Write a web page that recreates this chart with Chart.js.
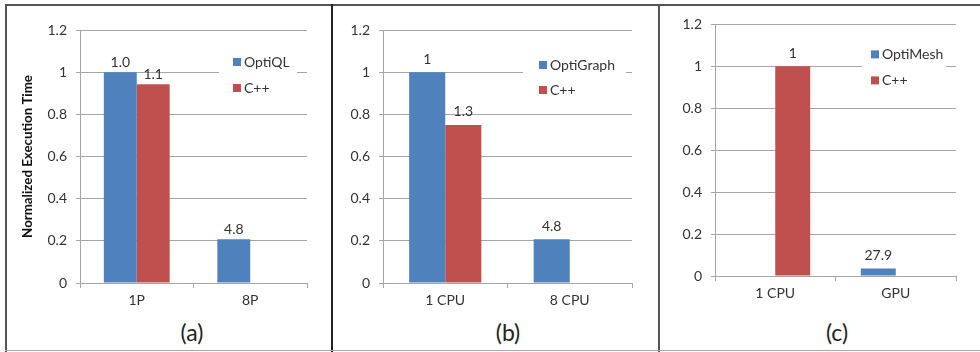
<!DOCTYPE html>
<html>
<head>
<meta charset="utf-8">
<script src="https://cdn.jsdelivr.net/npm/chart.js@4.4.1/dist/chart.umd.min.js"></script>
<style>
  html, body { margin: 0; padding: 0; background: #fff; }
  body { width: 980px; height: 352px; position: relative; overflow: hidden; font-family: Lato, "Open Sans", sans-serif; }
  .pane { position: absolute; }
  .line { position: absolute; }
  .cap { position: absolute; font-size: 23px; color: #222; transform: translate(-50%, -50%); white-space: nowrap; }
</style>
</head>
<body>
<div class="line" style="left:5px;top:4px;width:975px;height:2px;background:#555"></div>
<div class="line" style="left:5px;top:4px;width:2px;height:348px;background:#555"></div>
<div class="line" style="left:331px;top:4px;width:2px;height:348px;background:#222"></div>
<div class="line" style="left:658px;top:4px;width:2px;height:348px;background:#555"></div>
<div class="line" style="left:5px;top:350px;width:975px;height:1px;background:#aaa"></div>

<div class="pane" style="left:8px;top:7px;width:322px;height:300px"><canvas id="ca"></canvas></div>
<div class="pane" style="left:335px;top:7px;width:322px;height:300px"><canvas id="cb"></canvas></div>
<div class="pane" style="left:661px;top:7px;width:319px;height:300px"><canvas id="cc"></canvas></div>

<div class="cap" style="left:192px;top:332px">(a)</div>
<div class="cap" style="left:508px;top:332px">(b)</div>
<div class="cap" style="left:837px;top:332px">(c)</div>

<script>
// ---- data ----
const yTickLabels = ['0', '0.2', '0.4', '0.6', '0.8', '1', '1.2'];

const catsA = ['1P', '8P'];
const optiQL = [1.0, 0.208];
const cppA = [0.943, null];
const optiQLLabels = ['1.0', '4.8'];
const cppALabels = ['1.1', ''];

const catsB = ['1 CPU', '8 CPU'];
const optiGraph = [1.0, 0.208];
const cppB = [0.75, null];
const optiGraphLabels = ['1', '4.8'];
const cppBLabels = ['1.3', ''];

const catsC = ['1 CPU', 'GPU'];
const optiMesh = [null, 0.036];
const cppC = [1.0, null];
const optiMeshLabels = ['', '27.9'];
const cppCLabels = ['1', ''];

// ---- styles ----
const BLUE = '#4F81BD';
const RED = '#C0504D';
const FONT = 'Lato, "Open Sans", sans-serif';
const TXT = '#333';
const GRID = '#a6a6a6';

const barLabels = {
  id: 'barLabels',
  afterDatasetsDraw(chart, args, opts) {
    const ctx = chart.ctx;
    ctx.save();
    ctx.font = '14px ' + FONT;
    ctx.fillStyle = TXT;
    ctx.textAlign = 'center';
    ctx.textBaseline = 'middle';
    chart.data.datasets.forEach((ds, di) => {
      const meta = chart.getDatasetMeta(di);
      meta.data.forEach((bar, i) => {
        const t = ds.valueLabels[i];
        if (!t || ds.data[i] == null) return;
        ctx.fillText(t, bar.x, bar.y - opts.offset);
      });
    });
    ctx.restore();
  }
};

const boxLegend = {
  id: 'boxLegend',
  afterDatasetsDraw(chart, args, o) {
    const ctx = chart.ctx, a = chart.chartArea;
    ctx.save();
    ctx.fillStyle = '#fff';
    ctx.fillRect(a.left + o.boxLeft, a.top + o.rowY - 14, o.boxRight - o.boxLeft, o.rowGap + 26);
    ctx.font = '14px ' + FONT;
    ctx.textBaseline = 'middle';
    chart.data.datasets.forEach((ds, i) => {
      const y = a.top + o.rowY + i * o.rowGap;
      ctx.fillStyle = ds.backgroundColor;
      ctx.fillRect(a.left + o.sqLeft, y - 4, 8, 8);
      ctx.fillStyle = TXT;
      ctx.fillText(ds.label, a.left + o.sqLeft + 11, y + 0.5);
    });
    ctx.restore();
  }
};

function makeChart(id, cats, ds, cfg) {
  return new Chart(document.getElementById(id), {
    type: 'bar',
    data: { labels: cats, datasets: ds },
    options: {
      responsive: true,
      maintainAspectRatio: false,
      animation: false,
      events: [],
      layout: { padding: { left: 0, top: cfg.top, right: cfg.right, bottom: 0 } },
      datasets: { bar: { categoryPercentage: 0.58, barPercentage: 1.0, borderWidth: 0 } },
      plugins: {
        legend: { display: false },
        tooltip: { enabled: false },
        barLabels: { offset: cfg.labelOffset },
        boxLegend: cfg.legend
      },
      scales: {
        x: {
          offset: true,
          grid: { display: true, offset: true, drawOnChartArea: false, drawTicks: true, tickLength: 5, color: GRID },
          border: { display: true, color: GRID, width: 1 },
          ticks: { color: TXT, font: { family: FONT, size: 14 }, padding: 4, maxRotation: 0 },
          afterFit(s) { s.height = cfg.xh; }
        },
        y: {
          min: 0, max: 1.2,
          ticks: { stepSize: 0.2, color: TXT, font: { family: FONT, size: 14 }, padding: 9,
                   callback: (v, i) => yTickLabels[i] },
          grid: { color: GRID, drawTicks: true, tickLength: 4, lineWidth: 1 },
          border: { display: true, color: GRID, width: 1 },
          title: cfg.ytitle ? { display: true, text: cfg.ytitle, color: '#111',
                   font: { family: FONT, size: 13.3, weight: 'bold' }, padding: { top: 12, bottom: 0 } } : { display: false },
          afterFit(s) { s.width = cfg.yw; }
        }
      }
    },
    plugins: [barLabels, boxLegend]
  });
}

makeChart('ca', catsA, [
  { label: 'OptiQL', data: optiQL, backgroundColor: BLUE, valueLabels: optiQLLabels },
  { label: 'C++', data: cppA, backgroundColor: RED, valueLabels: cppALabels }
], { top: 23, right: 23, xh: 24, yw: 72, labelOffset: 10, ytitle: 'Normalized Execution Time',
     legend: { boxLeft: 139, boxRight: 217, sqLeft: 153, rowY: 32, rowGap: 26 } });

makeChart('cb', catsB, [
  { label: 'OptiGraph', data: optiGraph, backgroundColor: BLUE, valueLabels: optiGraphLabels },
  { label: 'C++', data: cppB, backgroundColor: RED, valueLabels: cppBLabels }
], { top: 23, right: 25, xh: 24, yw: 48, labelOffset: 13, ytitle: null,
     legend: { boxLeft: 140, boxRight: 243, sqLeft: 156, rowY: 35, rowGap: 25 } });

makeChart('cc', catsC, [
  { label: 'OptiMesh', data: optiMesh, backgroundColor: BLUE, valueLabels: optiMeshLabels },
  { label: 'C++', data: cppC, backgroundColor: RED, valueLabels: cppCLabels }
], { top: 16, right: 24, xh: 31, yw: 54, labelOffset: 13, ytitle: null,
     legend: { boxLeft: 147, boxRight: 231, sqLeft: 156, rowY: 30, rowGap: 26 } });
</script>
</body>
</html>
